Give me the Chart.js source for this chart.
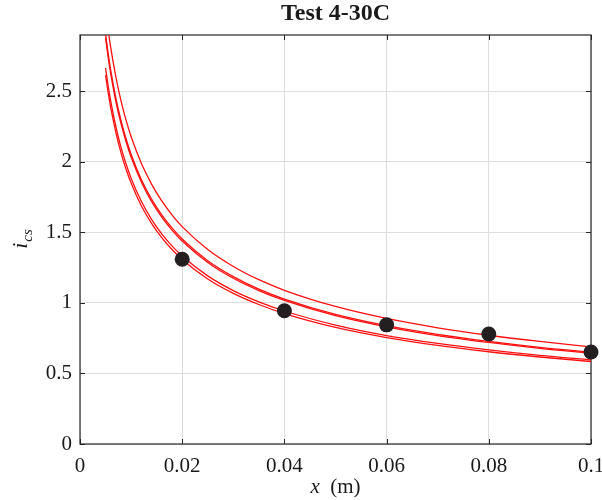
<!DOCTYPE html>
<html>
<head>
<meta charset="utf-8">
<script src="https://cdn.jsdelivr.net/npm/chart.js@4/dist/chart.umd.min.js"></script>
<style>
html,body{margin:0;padding:0;background:#fff;}
canvas{display:block;}
</style>
</head>
<body>
<canvas id="c" width="602" height="500"></canvas>
<script>
// ---- data ----
const titleText = "Test 4-30C";
const xTicks = [0, 0.02, 0.04, 0.06, 0.08, 0.1];
const yTicks = [0, 0.5, 1, 1.5, 2, 2.5];

const measX = [0.02, 0.04, 0.06, 0.08, 0.1];
const measY = [1.31, 0.945, 0.845, 0.78, 0.652];

const curveX = [0.005, 0.0055, 0.006, 0.007, 0.008, 0.009, 0.010, 0.012, 0.014, 0.016, 0.018, 0.020,
                0.025, 0.030, 0.035, 0.040, 0.050, 0.060, 0.070, 0.080, 0.090, 0.100];
const upperCurve = [3.083, 2.940, 2.814, 2.606, 2.437, 2.298, 2.180, 1.990, 1.843, 1.724, 1.625, 1.541,
                    1.379, 1.259, 1.165, 1.090, 0.975, 0.890, 0.824, 0.771, 0.727, 0.689];
const middleCurveA = [2.906, 2.771, 2.653, 2.456, 2.298, 2.166, 2.055, 1.876, 1.737, 1.625, 1.532, 1.453,
                      1.300, 1.187, 1.098, 1.028, 0.919, 0.839, 0.777, 0.727, 0.685, 0.650];
const middleCurveB = [2.878, 2.744, 2.627, 2.432, 2.275, 2.145, 2.035, 1.858, 1.720, 1.609, 1.517, 1.439,
                      1.287, 1.175, 1.088, 1.018, 0.910, 0.831, 0.769, 0.720, 0.678, 0.643];
const lowerCurveA = [2.666, 2.542, 2.434, 2.253, 2.107, 1.987, 1.885, 1.721, 1.593, 1.490, 1.405, 1.333,
                     1.192, 1.088, 1.008, 0.943, 0.843, 0.769, 0.713, 0.667, 0.628, 0.596];
const lowerCurveB = [2.616, 2.495, 2.388, 2.211, 2.068, 1.950, 1.850, 1.689, 1.564, 1.463, 1.379, 1.308,
                     1.170, 1.068, 0.989, 0.925, 0.827, 0.755, 0.699, 0.654, 0.617, 0.585];

const xMin = 0, xMax = 0.1, yMin = 0, yMax = 2.9;

// ---- helpers ----
const pts = (xs, ys) => xs.map((x, i) => ({x: x, y: ys[i]}));
const SERIF = '"Liberation Serif", "Times New Roman", serif';
const AXIS_COLOR = '#262626';
const RED = '#ff1010';

function curveDataset(ys) {
  return {
    type: 'line',
    data: pts(curveX, ys),
    borderColor: RED,
    borderWidth: 1.3,
    pointRadius: 0,
    fill: false,
    cubicInterpolationMode: 'monotone',
    clip: 0
  };
}

function zeroPad(s) {
  s.paddingLeft = 0; s.paddingRight = 0; s.paddingTop = 0; s.paddingBottom = 0;
}

const decorPlugin = {
  id: 'decor',
  beforeDatasetsDraw(chart) {
    const ctx = chart.ctx, a = chart.chartArea;
    const xs = chart.scales.x, ys = chart.scales.y;
    ctx.save();
    ctx.strokeStyle = AXIS_COLOR;
    ctx.lineWidth = 1.2;
    ctx.strokeRect(a.left, a.top, a.right - a.left, a.bottom - a.top);
    const tl = 5;
    ctx.lineWidth = 1;
    ctx.beginPath();
    xTicks.forEach(v => {
      const px = Math.round(xs.getPixelForValue(v)) + 0.5;
      ctx.moveTo(px, a.bottom); ctx.lineTo(px, a.bottom - tl);
      ctx.moveTo(px, a.top); ctx.lineTo(px, a.top + tl);
    });
    yTicks.forEach(v => {
      const py = Math.round(ys.getPixelForValue(v)) + 0.5;
      ctx.moveTo(a.left, py); ctx.lineTo(a.left + tl, py);
      ctx.moveTo(a.right, py); ctx.lineTo(a.right - tl, py);
    });
    ctx.stroke();
    ctx.restore();
  },
  afterDraw(chart) {
    const ctx = chart.ctx, a = chart.chartArea;
    const cx = (a.left + a.right) / 2;
    ctx.save();
    ctx.fillStyle = '#1a1a1a';
    // title
    ctx.font = 'bold 24px ' + SERIF;
    ctx.textAlign = 'center';
    ctx.textBaseline = 'middle';
    ctx.fillText(titleText, cx, 14);
    // x axis label: "x  (m)"
    ctx.textBaseline = 'alphabetic';
    ctx.font = 'italic 21px ' + SERIF;
    const w1 = ctx.measureText('x').width;
    ctx.font = '21px ' + SERIF;
    const gap = '\u2002';
    const w2 = ctx.measureText(gap + '(m)').width;
    let start = cx - (w1 + w2) / 2;
    ctx.textAlign = 'left';
    ctx.font = 'italic 21px ' + SERIF;
    ctx.fillText('x', start, 493);
    ctx.font = '21px ' + SERIF;
    ctx.fillText(gap + '(m)', start + w1, 493);
    // y axis label: i_cs rotated
    ctx.translate(27, (a.top + a.bottom) / 2);
    ctx.rotate(-Math.PI / 2);
    ctx.font = 'italic 22px ' + SERIF;
    const wi = ctx.measureText('i').width;
    ctx.font = 'italic 15px ' + SERIF;
    const wcs = ctx.measureText('cs').width;
    const s = -(wi + wcs) / 2;
    ctx.font = 'italic 22px ' + SERIF;
    ctx.fillText('i', s, 0);
    ctx.font = 'italic 15px ' + SERIF;
    ctx.fillText('cs', s + wi + 1, 5);
    ctx.restore();
  }
};

new Chart(document.getElementById('c'), {
  data: {
    datasets: [
      {
        type: 'scatter',
        data: pts(measX, measY),
        pointRadius: 7.5,
        pointHoverRadius: 7.5,
        backgroundColor: '#231f20',
        borderWidth: 0,
        clip: false
      },
      curveDataset(upperCurve),
      curveDataset(middleCurveA),
      curveDataset(middleCurveB),
      curveDataset(lowerCurveA),
      curveDataset(lowerCurveB)
    ]
  },
  options: {
    responsive: false,
    animation: false,
    events: [],
    layout: { padding: { top: 35, right: 11, left: 0, bottom: 0 }, autoPadding: false },
    plugins: { legend: { display: false }, tooltip: { enabled: false }, title: { display: false } },
    scales: {
      x: {
        type: 'linear',
        min: xMin, max: xMax,
        afterBuildTicks: s => { s.ticks = xTicks.map(v => ({value: v})); },
        afterFit: s => { s.height = 56; zeroPad(s); },
        grid: { color: '#dedede', lineWidth: 1, drawTicks: false },
        border: { display: false },
        ticks: {
          padding: 10,
          color: '#1a1a1a',
          font: { family: SERIF, size: 21 },
          maxRotation: 0,
          callback: v => String(v)
        }
      },
      y: {
        type: 'linear',
        min: yMin, max: yMax,
        afterBuildTicks: s => { s.ticks = yTicks.map(v => ({value: v})); },
        afterFit: s => { s.width = 80; zeroPad(s); },
        grid: { color: '#dedede', lineWidth: 1, drawTicks: false },
        border: { display: false },
        ticks: {
          padding: 8,
          color: '#1a1a1a',
          font: { family: SERIF, size: 21 },
          callback: v => String(v)
        }
      }
    }
  },
  plugins: [decorPlugin]
});
</script>
</body>
</html>
